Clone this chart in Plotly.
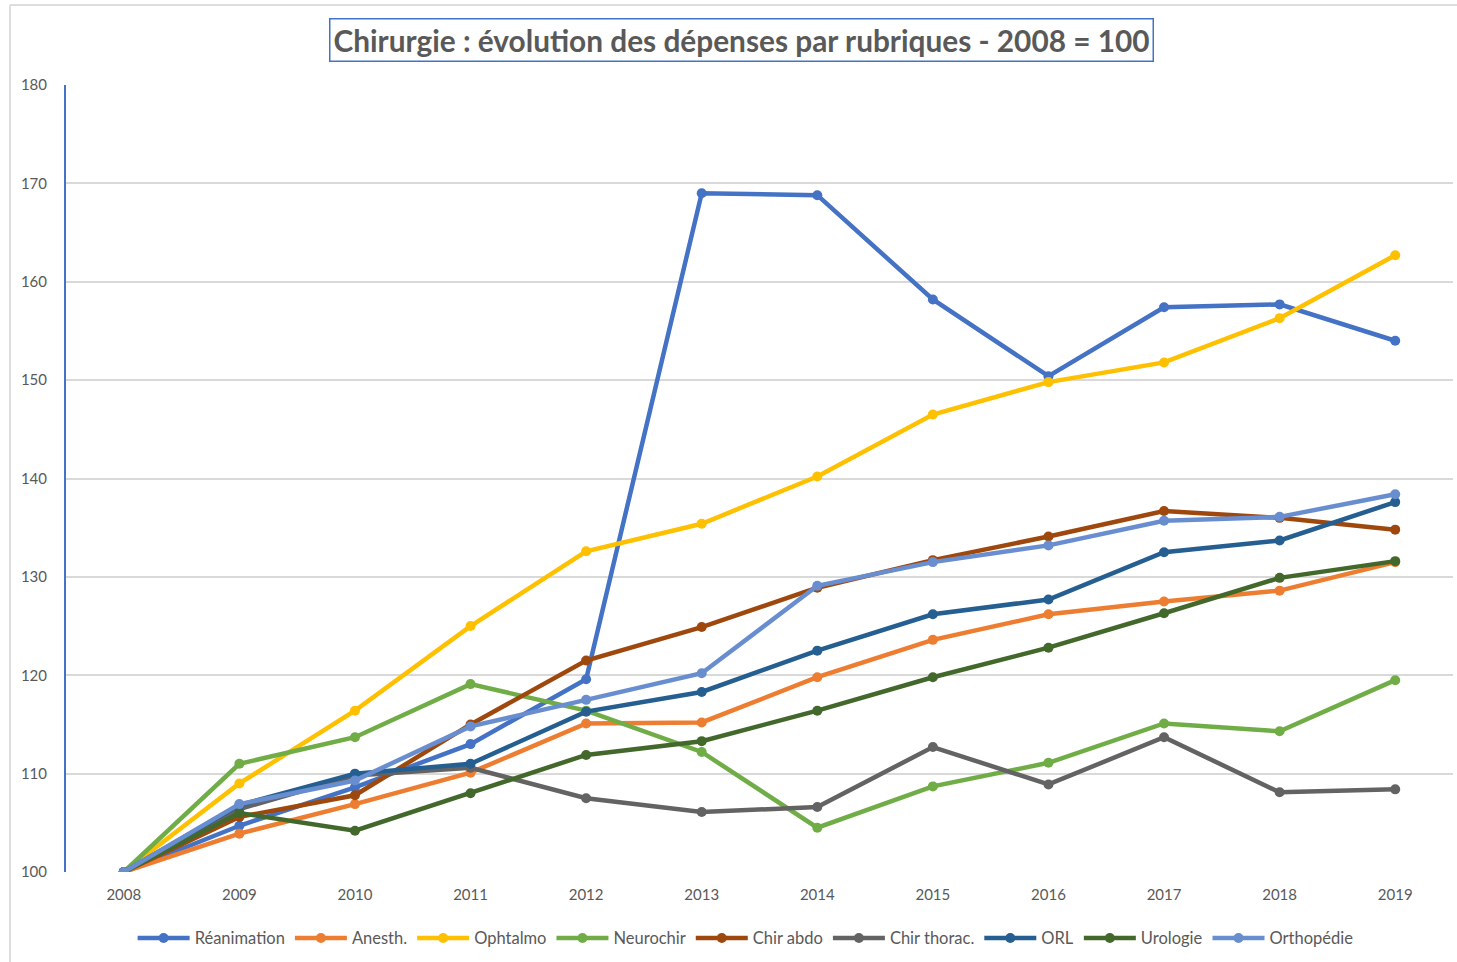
import plotly.graph_objects as go

years = [str(y) for y in range(2008, 2020)]

reanimation = [100, 104.7, 108.6, 113.0, 119.6, 169.0, 168.8, 158.2, 150.4, 157.4, 157.7, 154.0]
anesth      = [100, 103.9, 106.9, 110.1, 115.1, 115.2, 119.8, 123.6, 126.2, 127.5, 128.6, 131.5]
ophtalmo    = [100, 109.0, 116.4, 125.0, 132.6, 135.4, 140.2, 146.5, 149.8, 151.8, 156.3, 162.7]
neurochir   = [100, 111.0, 113.7, 119.1, 116.4, 112.2, 104.5, 108.7, 111.1, 115.1, 114.3, 119.5]
chir_abdo   = [100, 105.6, 107.8, 115.0, 121.5, 124.9, 128.9, 131.7, 134.1, 136.7, 136.0, 134.8]
chir_thorac = [100, 106.4, 109.8, 110.6, 107.5, 106.1, 106.6, 112.7, 108.9, 113.7, 108.1, 108.4]
orl         = [100, 106.8, 110.0, 111.0, 116.3, 118.3, 122.5, 126.2, 127.7, 132.5, 133.7, 137.6]
urologie    = [100, 106.0, 104.2, 108.0, 111.9, 113.3, 116.4, 119.8, 122.8, 126.3, 129.9, 131.6]
orthopedie  = [100, 106.9, 109.3, 114.8, 117.5, 120.2, 129.1, 131.5, 133.2, 135.7, 136.1, 138.4]

series = [
    ("Réanimation", reanimation, "#4472C4"),
    ("Anesth.", anesth, "#ED7D31"),
    ("Ophtalmo", ophtalmo, "#FFC000"),
    ("Neurochir", neurochir, "#70AD47"),
    ("Chir abdo", chir_abdo, "#9E480E"),
    ("Chir thorac.", chir_thorac, "#636363"),
    ("ORL", orl, "#255E91"),
    ("Urologie", urologie, "#43682B"),
    ("Orthopédie", orthopedie, "#698ED0"),
]

title_text = "Chirurgie : évolution des dépenses par rubriques - 2008 = 100"

fig = go.Figure()
for name, vals, col in series:
    fig.add_trace(go.Scatter(
        x=years, y=vals, name=name, mode="lines+markers",
        line=dict(color=col, width=4.5),
        marker=dict(color=col, size=10),
    ))

font_fam = "Lato, Open Sans, sans-serif"

fig.update_layout(
    width=1457, height=962,
    margin=dict(l=66, r=4, t=85, b=90),
    paper_bgcolor="white", plot_bgcolor="white",
    font=dict(family=font_fam, color="#595959", size=15),
    showlegend=True,
    legend=dict(orientation="h", x=0.49, xanchor="center", y=-0.062, yanchor="top",
                font=dict(size=16.5, color="#595959"), itemwidth=52, tracegroupgap=0),
    xaxis=dict(type="category", range=[-0.5, 11.5], showgrid=False, zeroline=False,
               showline=False, ticks="", ticklabelstandoff=12,
               tickfont=dict(size=15, color="#595959")),
    yaxis=dict(range=[100, 180], dtick=10, showgrid=True, gridcolor="#D9D9D9", gridwidth=1.5,
               zeroline=False, showline=True, linecolor="#4472C4", linewidth=2,
               ticks="", ticklabelstandoff=14, tickfont=dict(size=15, color="#595959")),
    annotations=[dict(
        text="<b>" + title_text + "</b>", xref="paper", yref="paper",
        x=0.487, y=1.0, yanchor="bottom", xanchor="center", yshift=23, showarrow=False,
        font=dict(size=29.8, color="#595959", family=font_fam),
        bordercolor="#4472C4", borderwidth=1.5, borderpad=3, bgcolor="white",
    )],
    shapes=[
        dict(type="line", xref="paper", yref="paper", x0=-0.0404, x1=-0.0404,
             y0=1.1017, y1=-0.12, line=dict(color="#DDDDDD", width=2)),
        dict(type="line", xref="paper", yref="paper", x0=-0.0404, x1=1.01,
             y0=1.1017, y1=1.1017, line=dict(color="#DDDDDD", width=2)),
    ],
)

fig.write_html("out.html", config={"displayModeBar": False},
               post_script="document.body.style.margin='0';")
